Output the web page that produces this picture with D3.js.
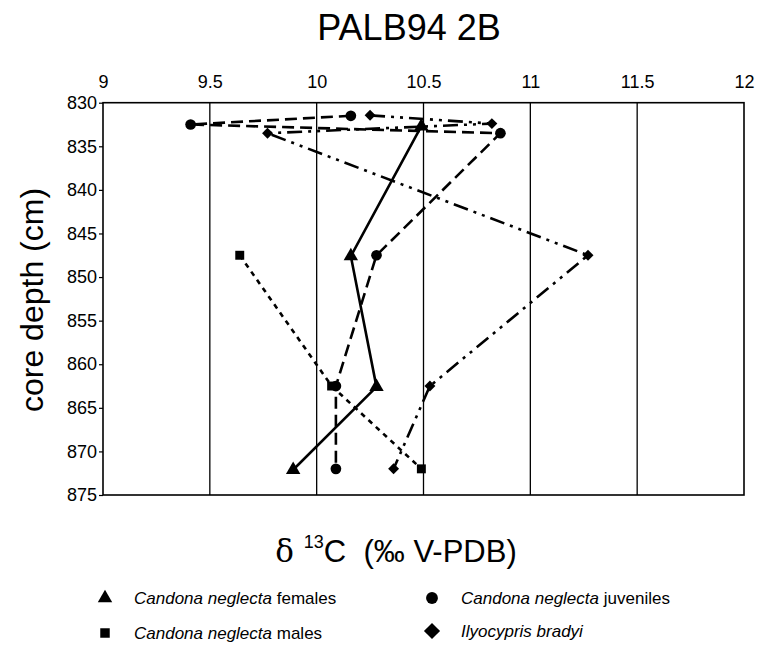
<!DOCTYPE html>
<html>
<head>
<meta charset="utf-8">
<script src="https://cdn.jsdelivr.net/npm/d3@7"></script>
<style>
  body { margin: 0; background: #fff; }
  text { font-family: "Liberation Sans", Arial, sans-serif; fill: #000; }
</style>
</head>
<body>
<svg id="chart" width="758" height="653"></svg>
<script>
// d13C values vs core depth
var femalesX = [10.49, 10.16, 10.28, 9.89];
var femalesDepth = [832.7, 847.6, 862.6, 872.1];

var juvenilesX = [10.16, 9.41, 10.86, 10.28, 10.09, 10.09];
var juvenilesDepth = [831.5, 832.5, 833.5, 847.5, 862.5, 872];

var malesX = [9.64, 10.07, 10.49];
var malesDepth = [847.5, 862.5, 872];

var bradyiX = [10.25, 10.82, 9.77, 11.27, 10.53, 10.36];
var bradyiDepth = [831.45, 832.4, 833.5, 847.5, 862.5, 872];

var xTicks = [9, 9.5, 10, 10.5, 11, 11.5, 12];
var yTicks = [830, 835, 840, 845, 850, 855, 860, 865, 870, 875];

var margin = { top: 102.7, left: 103, right: 14, bottom: 158 };
var width = 744 - margin.left,
    height = 495 - margin.top;

var svg = d3.select("#chart");

var xScale = d3.scaleLinear().domain([9, 12]).range([0, width]);
var yScale = d3.scaleLinear().domain([830, 875]).range([0, height]);

var g = svg.append("g")
    .attr("transform", "translate(" + margin.left + "," + margin.top + ")");

// vertical grid lines
g.selectAll("line.grid")
    .data(xTicks.slice(1, -1)).enter()
    .append("line")
    .attr("class", "grid")
    .attr("x1", function (d) { return xScale(d); })
    .attr("x2", function (d) { return xScale(d); })
    .attr("y1", 0)
    .attr("y2", height)
    .attr("stroke", "#000")
    .attr("stroke-width", 1.3);

// frame
g.append("rect")
    .attr("width", width)
    .attr("height", height)
    .attr("fill", "none")
    .attr("stroke", "#000")
    .attr("stroke-width", 1.6);

// top axis (labels only)
var xAxis = d3.axisTop(xScale).tickValues(xTicks).tickSize(0).tickPadding(15)
    .tickFormat(d3.format("~g"));
var gx = g.append("g").call(xAxis);
gx.select(".domain").remove();
gx.selectAll("text").style("font-size", "18px").attr("font-family", null);

// left axis
var yAxis = d3.axisLeft(yScale).tickValues(yTicks).tickSize(4).tickPadding(2);
var gy = g.append("g").call(yAxis);
gy.select(".domain").remove();
gy.selectAll("line").attr("stroke-width", 1.2);
gy.selectAll("text").style("font-size", "18px").attr("font-family", null);

var diamond = {
    draw: function (ctx, size) {
        var r = Math.sqrt(size / 2);
        ctx.moveTo(0, -r); ctx.lineTo(r, 0); ctx.lineTo(0, r); ctx.lineTo(-r, 0); ctx.closePath();
    }
};

var series = [
    { name: "females", xs: femalesX, ds: femalesDepth, dash: null, symbol: d3.symbolTriangle, size: 90 },
    { name: "juveniles", xs: juvenilesX, ds: juvenilesDepth, dash: "12,6", symbol: d3.symbolCircle, size: 90 },
    { name: "males", xs: malesX, ds: malesDepth, dash: "5,5", symbol: d3.symbolSquare, size: 80 },
    { name: "bradyi", xs: bradyiX, ds: bradyiDepth, dash: "15,6,3,6,3,6", symbol: diamond, size: 60 }
];

var line = d3.line()
    .x(function (d) { return xScale(d[0]); })
    .y(function (d) { return yScale(d[1]); });

series.forEach(function (s) {
    var pts = s.xs.map(function (v, i) { return [v, s.ds[i]]; });
    g.append("path")
        .datum(pts)
        .attr("d", line)
        .attr("fill", "none")
        .attr("stroke", "#000")
        .attr("stroke-width", 2.6)
        .attr("stroke-dasharray", s.dash);
    g.selectAll("path.sym-" + s.name)
        .data(pts).enter()
        .append("path")
        .attr("class", "sym-" + s.name)
        .attr("d", d3.symbol().type(s.symbol).size(s.size))
        .attr("transform", function (d) {
            return "translate(" + xScale(d[0]) + "," + yScale(d[1]) + ")";
        })
        .attr("fill", "#000");
});

// titles
svg.append("text")
    .attr("x", 409).attr("y", 40)
    .attr("text-anchor", "middle")
    .style("font-size", "36px")
    .text("PALB94 2B");

svg.append("text")
    .attr("transform", "translate(43,300) rotate(-90)")
    .attr("text-anchor", "middle")
    .style("font-size", "32px")
    .text("core depth (cm)");

var xl = svg.append("text")
    .attr("x", 396).attr("y", 562)
    .attr("text-anchor", "middle")
    .style("font-size", "31px");
xl.append("tspan").style("font-family", "'DejaVu Serif', serif").text("δ\u00a0");
xl.append("tspan").attr("dy", -14).style("font-size", "18px").text("13");
xl.append("tspan").attr("dy", 14).text("C\u00a0\u00a0(‰ V-PDB)");

// legend
var legend = [
    { sym: d3.symbolTriangle, size: 90, x: 105, y: 598, it: "Candona neglecta", rest: " females" },
    { sym: d3.symbolCircle, size: 110, x: 432, y: 598, it: "Candona neglecta", rest: " juveniles" },
    { sym: d3.symbolSquare, size: 90, x: 105, y: 633, it: "Candona neglecta", rest: " males" },
    { sym: diamond, size: 130, x: 432, y: 631, it: "Ilyocypris bradyi", rest: "" }
];

legend.forEach(function (l) {
    svg.append("path")
        .attr("d", d3.symbol().type(l.sym).size(l.size))
        .attr("transform", "translate(" + l.x + "," + l.y + ")")
        .attr("fill", "#000");
    var t = svg.append("text")
        .attr("x", l.x + 29).attr("y", l.y + 6)
        .style("font-size", "17px");
    t.append("tspan").style("font-style", "italic").text(l.it);
    if (l.rest) t.append("tspan").text(l.rest);
});
</script>
</body>
</html>
